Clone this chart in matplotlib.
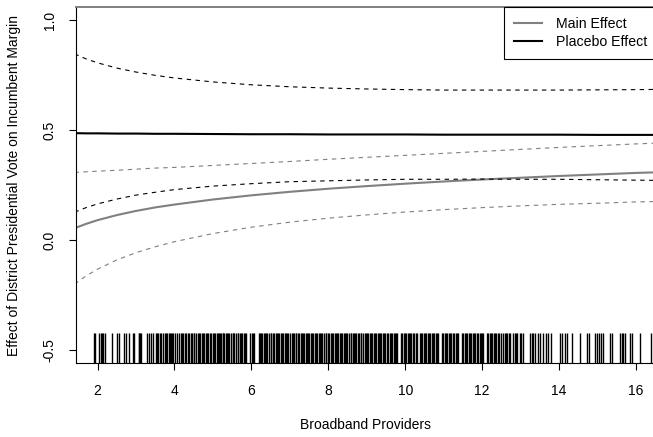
import matplotlib
matplotlib.use("Agg")
import matplotlib.pyplot as plt
import matplotlib.transforms as mtransforms

plt.rcParams['font.family'] = ['Liberation Sans', 'DejaVu Sans']
plt.rcParams['axes.unicode_minus'] = False

# values (broadband providers on x)
providers = [1.4, 1.7, 2, 2.5, 3, 3.5, 4, 5, 6, 7, 8, 9, 10, 11, 12, 13, 14, 15, 16, 16.6]

main_effect = [0.053, 0.073, 0.090, 0.113, 0.132, 0.148, 0.161, 0.184, 0.203, 0.219,
               0.233, 0.245, 0.256, 0.266, 0.275, 0.283, 0.291, 0.298, 0.305, 0.308]
main_upper = [0.307, 0.310, 0.313, 0.317, 0.322, 0.327, 0.330, 0.339, 0.348, 0.357,
              0.367, 0.376, 0.385, 0.394, 0.403, 0.412, 0.421, 0.429, 0.437, 0.441]
main_lower = [-0.201, -0.164, -0.133, -0.091, -0.058, -0.031, -0.008, 0.029, 0.058, 0.081,
              0.099, 0.114, 0.127, 0.138, 0.147, 0.155, 0.162, 0.167, 0.173, 0.175]

placebo_effect = [0.486, 0.485, 0.485, 0.484, 0.484, 0.483, 0.483, 0.482, 0.481, 0.481,
                  0.480, 0.480, 0.480, 0.479, 0.479, 0.479, 0.479, 0.478, 0.478, 0.478]
placebo_upper = [0.847, 0.824, 0.806, 0.782, 0.764, 0.749, 0.737, 0.719, 0.706, 0.697,
                 0.691, 0.687, 0.684, 0.682, 0.682, 0.682, 0.682, 0.683, 0.684, 0.685]
placebo_lower = [0.126, 0.147, 0.164, 0.186, 0.204, 0.217, 0.229, 0.245, 0.256, 0.265,
                 0.269, 0.273, 0.276, 0.276, 0.277, 0.276, 0.276, 0.274, 0.272, 0.271]

# observed provider counts shown as a rug
rug_values = [
    1.90, 1.93, 2.05, 2.09, 2.12, 2.14, 2.19, 2.38, 2.51, 2.55, 2.68, 2.73, 2.81, 2.92, 2.94,
    3.07, 3.09, 3.11, 3.13, 3.29, 3.35, 3.40, 3.44, 3.51, 3.55, 3.58, 3.63, 3.66, 3.70, 3.75,
    3.79, 3.81, 3.85, 3.89, 3.92, 3.94, 3.97, 4.01, 4.07, 4.12, 4.17, 4.20, 4.22, 4.28, 4.31,
    4.35, 4.38, 4.42, 4.46, 4.50, 4.52, 4.57, 4.61, 4.63, 4.67, 4.71, 4.74, 4.77, 4.82, 4.85,
    4.88, 4.93, 4.95, 4.99, 5.04, 5.06, 5.10, 5.13, 5.17, 5.19, 5.21, 5.25, 5.27, 5.30,
    5.33, 5.37, 5.40, 5.42, 5.47, 5.51, 5.53, 5.56, 5.60, 5.64, 5.66, 5.71, 5.73, 5.76, 5.81,
    5.83, 5.86, 5.97, 6.01, 6.03, 6.06, 6.19, 6.23, 6.25, 6.28, 6.32, 6.36, 6.39, 6.41, 6.46,
    6.50, 6.52, 6.55, 6.59, 6.64, 6.66, 6.69, 6.73, 6.77, 6.80, 6.82, 6.87, 6.91, 6.93, 6.96,
    7.00, 7.05, 7.07, 7.10, 7.15, 7.17, 7.20, 7.24, 7.28, 7.31, 7.33, 7.38, 7.42, 7.44, 7.47,
    7.51, 7.56, 7.58, 7.61, 7.66, 7.68, 7.71, 7.75, 7.79, 7.82, 7.84, 7.89, 7.93, 7.95, 7.98,
    8.02, 8.07, 8.09, 8.12, 8.17, 8.19, 8.22, 8.26, 8.30, 8.33, 8.35, 8.40, 8.44, 8.46, 8.49,
    8.53, 8.58, 8.60, 8.63, 8.68, 8.70, 8.73, 8.77, 8.81, 8.84, 8.86, 8.91, 8.95, 8.97, 9.00,
    9.04, 9.09, 9.11, 9.14, 9.19, 9.21, 9.25, 9.28, 9.33, 9.35, 9.38, 9.43, 9.46, 9.48, 9.52,
    9.56, 9.60, 9.62, 9.66, 9.70, 9.73, 9.77, 9.79, 9.89, 9.92, 9.96, 9.99, 10.02, 10.06,
    10.09, 10.13, 10.16, 10.19, 10.23, 10.27, 10.30, 10.38, 10.41, 10.44, 10.48, 10.51, 10.55,
    10.58, 10.61, 10.65, 10.69, 10.72, 10.75, 10.79, 10.83, 10.86, 10.96, 10.99, 11.03, 11.06,
    11.09, 11.13, 11.17, 11.20, 11.23, 11.27, 11.31, 11.34, 11.38, 11.47, 11.51, 11.54, 11.57,
    11.61, 11.65, 11.68, 11.71, 11.75, 11.79, 11.82, 11.86, 11.89, 11.93, 11.96, 12.00, 12.03,
    12.12, 12.16, 12.19, 12.23, 12.26, 12.30, 12.33, 12.37, 12.41, 12.44, 12.48, 12.55, 12.58,
    12.62, 12.65, 12.69, 12.72, 12.81, 12.85, 12.88, 12.91, 12.98, 13.02, 13.05,
    13.25, 13.29, 13.33, 13.38, 13.46, 13.51, 13.57, 13.65, 13.71, 13.79, 14.03, 14.07, 14.14,
    14.20, 14.33, 14.55, 14.72, 14.78, 14.94, 14.98, 15.04, 15.09, 15.15, 15.32, 15.37, 15.58,
    15.63, 15.67, 15.71, 15.84, 15.90, 16.10, 16.39,
]

x_ticks = [2, 4, 6, 8, 10, 12, 14, 16]
y_ticks = [-0.5, 0.0, 0.5, 1.0]

fig = plt.figure(figsize=(6.53, 4.37), dpi=100)
ax = fig.add_axes([76 / 653, 1 - 363 / 437, 581.6 / 653, 356 / 437])

ax.plot(providers, main_effect, color='#808080', lw=1.5, label='Main Effect')
ax.plot(providers, main_upper, color='#808080', lw=0.8, ls=(0, (4, 4)))
ax.plot(providers, main_lower, color='#808080', lw=0.8, ls=(0, (4, 4)))
ax.plot(providers, placebo_effect, color='black', lw=1.5, label='Placebo Effect')
ax.plot(providers, placebo_upper, color='black', lw=0.8, ls=(0, (4, 4)))
ax.plot(providers, placebo_lower, color='black', lw=0.8, ls=(0, (4, 4)))

# rug along the bottom
trans = mtransforms.blended_transform_factory(ax.transData, ax.transAxes)
ax.vlines(rug_values, 0, 30 / 356, transform=trans, color='black', lw=1.0)

ax.set_xlim(1.44, 16.56)
ax.set_ylim(-0.56, 1.06)
ax.set_xticks(x_ticks)
ax.set_xticklabels([str(t) for t in x_ticks])
ax.set_yticks(y_ticks)
ax.set_yticklabels(['-0.5', '0.0', '0.5', '1.0'], rotation=90, va='center')
ax.tick_params(axis='both', direction='out', length=5, width=0.8, labelsize=10, color='black')
ax.tick_params(axis='x', pad=10)
ax.tick_params(axis='y', pad=9)

for side in ['left', 'bottom', 'right']:
    ax.spines[side].set_color('black')
    ax.spines[side].set_linewidth(0.8)
ax.spines['top'].set_color('#808080')
ax.spines['top'].set_linewidth(1.4)

leg = ax.legend(loc='upper right', borderaxespad=0, fontsize=10.2, fancybox=False,
                framealpha=1, edgecolor='black', handlelength=2.0, handletextpad=1.0,
                borderpad=0.7, labelspacing=0.3)
leg.get_frame().set_linewidth(0.8)

fig.text(366 / 653, 1 - 425 / 437, 'Broadband Providers', ha='center', va='center', fontsize=10)
fig.text(14 / 653, 1 - 185 / 437, 'Effect of District Presidential Vote on Incumbent Margin',
         ha='center', va='center', rotation=90, fontsize=10)

fig.savefig('out.png', dpi=100)
